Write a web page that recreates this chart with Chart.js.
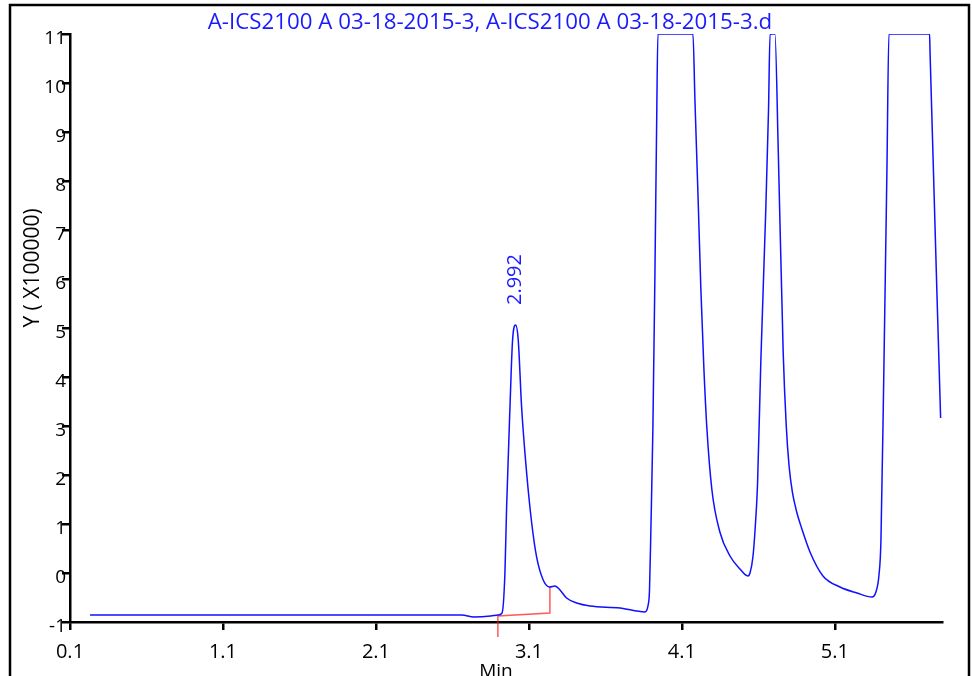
<!DOCTYPE html>
<html>
<head>
<meta charset="utf-8">
<script src="https://cdn.jsdelivr.net/npm/chart.js@4.4.1/dist/chart.umd.min.js"></script>
<style>
  html, body { margin: 0; padding: 0; background: #fff; }
  #wrap { width: 972px; height: 676px; position: relative; }
</style>
</head>
<body>
<div id="wrap"><canvas id="myChart"></canvas></div>
<script>
const titleText = 'A-ICS2100 A 03-18-2015-3, A-ICS2100 A 03-18-2015-3.d';
const xTitle = 'Min';
const yTitle = 'Y ( X100000)';
const xTicks = [0.1, 1.1, 2.1, 3.1, 4.1, 5.1];

// trace (time in min, signal in x100000)
const traceTimes = [0.231, 1.0, 2.0, 2.66, 2.74, 2.85, 2.897, 2.924, 2.943, 2.954, 2.976, 2.993, 3.013, 3.030, 3.052,
  3.085, 3.118, 3.150, 3.193, 3.237, 3.270, 3.303, 3.346, 3.412, 3.499, 3.695, 3.858,
  3.878, 3.888, 3.897, 3.910, 3.923, 3.935, 3.943, 4.172,
  4.185, 4.205, 4.224, 4.244, 4.263, 4.296, 4.348, 4.414, 4.479, 4.531,
  4.545, 4.564, 4.578, 4.594, 4.616, 4.647, 4.666, 4.676, 4.708,
  4.730, 4.762, 4.782, 4.800, 4.822, 4.850, 4.882, 4.937, 5.022, 5.133, 5.244, 5.342,
  5.368, 5.388, 5.401, 5.420, 5.440, 5.453, 5.719, 5.722, 5.791];
const traceValues = [-0.857, -0.857, -0.857, -0.857, -0.90, -0.88, -0.857, -0.816, 0.0, 1.347, 3.388, 4.755, 5.061, 4.755, 3.388,
  2.041, 1.020, 0.327, -0.143, -0.286, -0.265, -0.347, -0.510, -0.612, -0.673, -0.714, -0.796,
  -0.673, -0.347, 0.878, 2.918, 5.98, 9.245, 11, 11,
  9.653, 7.714, 5.776, 4.143, 2.959, 1.694, 0.837, 0.347, 0.082, -0.061,
  0.0, 0.327, 0.878, 1.796, 4.347, 7.306, 9.449, 11, 11,
  8.571, 4.49, 3.0, 2.2, 1.65, 1.25, 0.918, 0.43, -0.06, -0.286, -0.408, -0.49,
  -0.388, -0.041, 0.673, 4.143, 8.224, 11, 11, 10.61, 3.163];

// red integration baseline
const baseTimes = [2.897, 2.897, 3.237, 3.237];
const baseValues = [-1.306, -0.878, -0.816, -0.286];

const peakTime = 3.013;
const peakValue = 5.061;
const peakLabel = '2.992';

const fontName = "'Open Sans', 'Noto Sans', sans-serif";

const decor = {
    id: 'decor',
    afterDraw(chart) {
        const c = chart.ctx;
        c.save();
        // outer frame
        c.strokeStyle = '#000';
        c.lineWidth = 2.5;
        c.strokeRect(10, 5, 959, 700);

        // title, fitted to the width seen in the picture
        c.fillStyle = '#1a1aff';
        c.font = '20px ' + fontName;
        let w = c.measureText(titleText).width;
        let size = 20 * 564 / w;
        c.font = size.toFixed(1) + 'px ' + fontName;
        c.textAlign = 'center';
        c.textBaseline = 'alphabetic';
        c.fillText(titleText, 490, 29);

        // axis titles
        c.fillStyle = '#000';
        c.font = '19px ' + fontName;
        c.fillText(xTitle, 496, 677);
        c.save();
        c.translate(39, 268);
        c.rotate(-Math.PI / 2);
        c.font = '21px ' + fontName;
        c.fillText(yTitle, 0, 0);
        c.restore();

        // peak label
        const px = chart.scales.x.getPixelForValue(peakTime);
        const py = chart.scales.y.getPixelForValue(peakValue);
        c.save();
        c.translate(px, py - 20);
        c.rotate(-Math.PI / 2);
        c.fillStyle = '#1a1aff';
        c.font = '20px ' + fontName;
        c.textAlign = 'left';
        c.textBaseline = 'middle';
        c.fillText(peakLabel, 0, 0);
        c.restore();
        c.restore();
    }
};

const ctx = document.getElementById('myChart').getContext('2d');
new Chart(ctx, {
    type: 'line',
    data: {
        datasets: [{
            data: traceTimes.map((t, i) => ({ x: t, y: traceValues[i] })),
            borderColor: '#1010ff',
            borderWidth: 1.5,
            pointRadius: 0,
            cubicInterpolationMode: 'monotone'
        }, {
            data: baseTimes.map((t, i) => ({ x: t, y: baseValues[i] })),
            borderColor: 'rgba(255, 20, 20, 0.7)',
            borderWidth: 1.5,
            pointRadius: 0,
            tension: 0,
            clip: false
        }]
    },
    options: {
        responsive: true,
        maintainAspectRatio: false,
        animation: false,
        layout: { padding: { left: 0, right: 30, top: 34, bottom: 0 } },
        plugins: {
            legend: { display: false },
            tooltip: { enabled: false }
        },
        scales: {
            x: {
                type: 'linear',
                min: 0.1,
                max: 5.8,
                afterBuildTicks: s => { s.ticks = xTicks.map(v => ({ value: v })); },
                afterFit: s => { s.height = 54; },
                grid: { drawOnChartArea: false, drawTicks: true, tickLength: 8, color: '#000', lineWidth: 2.5 },
                border: { color: '#000', width: 2.5 },
                ticks: {
                    color: '#000',
                    font: { family: fontName, size: 20 },
                    padding: 10,
                    maxRotation: 0,
                    autoSkip: false,
                    callback: v => v.toFixed(1)
                }
            },
            y: {
                min: -1,
                max: 11,
                afterFit: s => { s.width = 70; },
                grid: { drawOnChartArea: false, drawTicks: true, tickLength: 8, color: '#000', lineWidth: 2.5 },
                border: { color: '#000', width: 2.5 },
                ticks: {
                    stepSize: 1,
                    color: '#000',
                    font: { family: fontName, size: 19 },
                    padding: -4,
                    labelOffset: 5
                }
            }
        }
    },
    plugins: [decor]
});
</script>
</body>
</html>
